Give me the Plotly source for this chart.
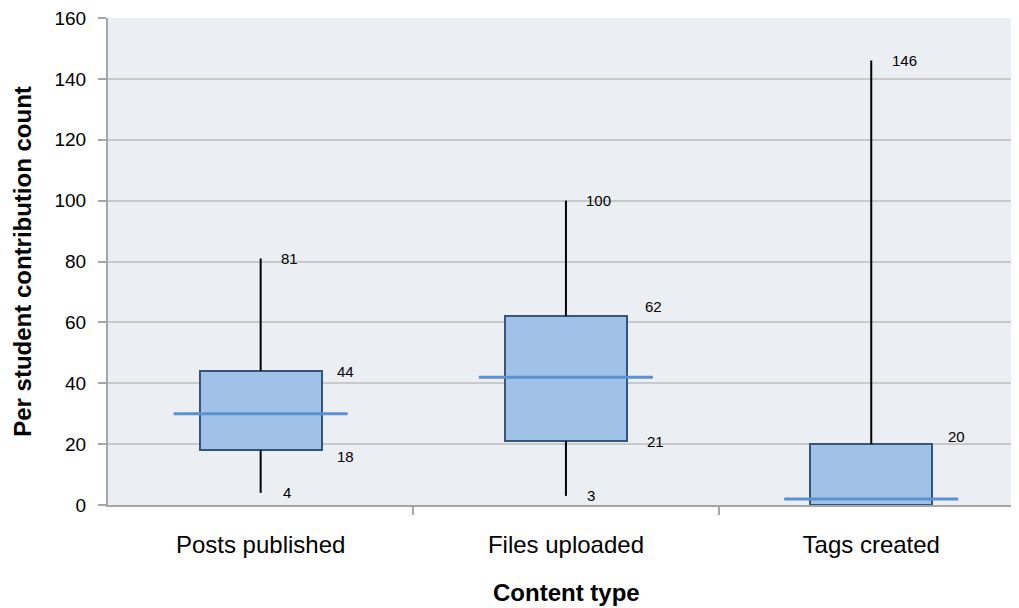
import plotly.graph_objects as go

categories = ["Posts published", "Files uploaded", "Tags created"]
mins = [4, 3, 0]
q1 = [18, 21, 0]
medians = [30, 42, 2]
q3 = [44, 62, 20]
maxs = [81, 100, 146]
x_title = "Content type"
y_title = "Per student contribution count"

# label placement offsets (pixels) for the data labels
max_label_dx = [29, 33, 33]
min_label_dx = [26, 25, None]
q3_label_dx = [85, 88, 85]
q3_label_dy = [0, 10, 8]
q1_label_dx = [85, 90, None]
q1_label_dy = [-6, 0, None]

xs = list(range(len(categories)))
FONT = "Liberation Sans, Arial, sans-serif"

fig = go.Figure()

# whiskers
for i in xs:
    fig.add_trace(go.Scatter(x=[i, i], y=[mins[i], q1[i]], mode="lines",
                             line=dict(color="black", width=2), showlegend=False, hoverinfo="skip"))
    fig.add_trace(go.Scatter(x=[i, i], y=[q3[i], maxs[i]], mode="lines",
                             line=dict(color="black", width=2), showlegend=False, hoverinfo="skip"))

# boxes
fig.add_trace(go.Bar(x=xs, y=[q3[i] - q1[i] for i in xs], base=q1, width=0.4,
                     marker=dict(color="#A0C2E9", line=dict(color="#34557D", width=2)),
                     showlegend=False))

# medians
for i in xs:
    fig.add_trace(go.Scatter(x=[i - 0.285, i + 0.285], y=[medians[i], medians[i]], mode="lines",
                             line=dict(color="#5A92D0", width=3), showlegend=False, hoverinfo="skip"))

ann = []
def lab(x, y, v, dx, dy):
    ann.append(dict(x=x, y=y, text=str(v), showarrow=False, xref="x", yref="y",
                    xshift=dx, yshift=dy, font=dict(family=FONT, size=15, color="black")))

for i in xs:
    lab(i, maxs[i], maxs[i], max_label_dx[i], 0)
    if min_label_dx[i] is not None:
        lab(i, mins[i], mins[i], min_label_dx[i], 0)
    lab(i, q3[i], q3[i], q3_label_dx[i], q3_label_dy[i])
    if q1_label_dx[i] is not None:
        lab(i, q1[i], q1[i], q1_label_dx[i], q1_label_dy[i])

# x axis title as an annotation for exact placement
ann.append(dict(x=0.5, y=0, xref="paper", yref="paper", text="<b>" + x_title + "</b>",
                showarrow=False, xanchor="center", yanchor="middle", xshift=3, yshift=-87,
                font=dict(family=FONT, size=24, color="black")))

# page body has an 8px margin; compensate so the plot sits where the reference does
fig.update_layout(
    width=1011, height=600,
    margin=dict(l=100, r=0, t=10, b=103),
    paper_bgcolor="white", plot_bgcolor="#EBEEF3",
    font=dict(family=FONT, size=18, color="black"),
    annotations=ann,
    bargap=0,
)

fig.update_xaxes(
    automargin=False,
    range=[-0.5, 2.484],
    tickvals=xs, ticktext=categories, ticks="",
    showgrid=False, zeroline=False,
    showline=True, linecolor="#A6A6A6", linewidth=2,
    minor=dict(tickvals=[0.5, 1.5], ticks="outside", ticklen=8, tickcolor="#A6A6A6", tickwidth=2, showgrid=False),
    ticklabelstandoff=17,
    ticklabeloverflow="allow",
    tickfont=dict(size=24),
)

fig.update_yaxes(
    automargin=False,
    range=[0, 160], dtick=20,
    showgrid=True, gridcolor="#C9C9C9", gridwidth=2,
    zeroline=False,
    showline=True, linecolor="#A6A6A6", linewidth=2,
    ticks="outside", ticklen=8, tickcolor="#A6A6A6", tickwidth=2,
    tickfont=dict(size=19),
    ticklabelstandoff=8,
    ticklabeloverflow="allow",
    title=dict(text="<b>" + y_title + "</b>", font=dict(size=24), standoff=16),
)

fig.write_html("out.html")
